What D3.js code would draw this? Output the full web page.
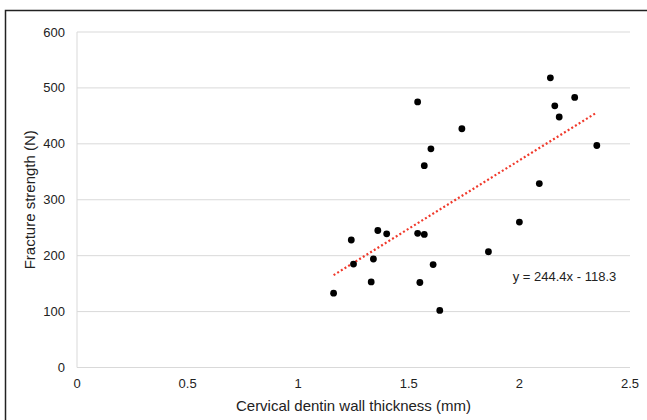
<!DOCTYPE html>
<html>
<head>
<meta charset="utf-8">
<script src="https://cdn.jsdelivr.net/npm/d3@7"></script>
<style>
  body { margin: 0; background: #ffffff; }
  svg { display: block; font-family: "Liberation Sans", Arial, sans-serif; }
</style>
</head>
<body>
<svg id="chart" width="647" height="420"></svg>
<script>
// Data
const thickness = [1.16, 1.24, 1.25, 1.33, 1.34, 1.36, 1.40, 1.54, 1.54, 1.55, 1.57, 1.57,
                   1.60, 1.61, 1.64, 1.74, 1.86, 2.00, 2.09, 2.14, 2.16, 2.18, 2.25, 2.35];
const strength = [133, 228, 185, 153, 194, 245, 239, 475, 240, 152, 361, 238,
                  391, 184, 102, 427, 207, 260, 329, 518, 468, 448, 483, 397];
const xTicks = [0, 0.5, 1, 1.5, 2, 2.5];
const yTicks = [0, 100, 200, 300, 400, 500, 600];
const slope = 244.4;
const intercept = -118.3;
const equationLabel = "y = 244.4x - 118.3";

const points = thickness.map((t, i) => ({ x: t, y: strength[i] }));

// Plot area
const margin = { top: 32, right: 17, bottom: 52.5, left: 77 };
const width = 647 - margin.left - margin.right;
const height = 420 - margin.top - margin.bottom;

const svg = d3.select("#chart");

// outer frame
svg.append("rect")
    .attr("x", 5.5)
    .attr("y", 10.5)
    .attr("width", 700)
    .attr("height", 500)
    .attr("fill", "none")
    .attr("stroke", "#222")
    .attr("stroke-width", 1.5);

const g = svg.append("g")
    .attr("transform", `translate(${margin.left},${margin.top})`);

const x = d3.scaleLinear().domain([0, 2.5]).range([0, width]);
const y = d3.scaleLinear().domain([0, 600]).range([height, 0]);

// horizontal gridlines
g.append("g")
    .selectAll("line")
    .data(yTicks)
    .join("line")
    .attr("x1", 0)
    .attr("x2", width)
    .attr("y1", d => y(d))
    .attr("y2", d => y(d))
    .attr("stroke", "#d9d9d9")
    .attr("stroke-width", 1);

// y axis line
g.append("line")
    .attr("x1", 0).attr("x2", 0)
    .attr("y1", 0).attr("y2", height)
    .attr("stroke", "#d9d9d9")
    .attr("stroke-width", 1);

// tick labels
g.append("g")
    .selectAll("text")
    .data(yTicks)
    .join("text")
    .attr("x", -12)
    .attr("y", d => y(d))
    .attr("dy", "0.35em")
    .attr("text-anchor", "end")
    .style("font-size", "13px")
    .style("fill", "#222")
    .text(d => d);

g.append("g")
    .selectAll("text")
    .data(xTicks)
    .join("text")
    .attr("x", d => x(d))
    .attr("y", height + 20)
    .attr("text-anchor", "middle")
    .style("font-size", "13px")
    .style("fill", "#222")
    .text(d => d);

// axis titles
g.append("text")
    .attr("x", width / 2)
    .attr("y", height + 43)
    .attr("text-anchor", "middle")
    .style("font-size", "15px")
    .style("fill", "#222")
    .text("Cervical dentin wall thickness (mm)");

g.append("text")
    .attr("transform", "rotate(-90)")
    .attr("x", -height / 2)
    .attr("y", -42)
    .attr("text-anchor", "middle")
    .style("font-size", "15px")
    .style("fill", "#222")
    .text("Fracture strength (N)");

// trendline over the data range
const xMin = d3.min(thickness);
const xMax = d3.max(thickness);
const trend = [xMin, xMax].map(t => ({ x: t, y: slope * t + intercept }));

g.append("path")
    .datum(trend)
    .attr("fill", "none")
    .attr("stroke", "#f0392b")
    .attr("stroke-width", 2.2)
    .attr("stroke-dasharray", "2 2.3")
    .attr("d", d3.line().x(d => x(d.x)).y(d => y(d.y)));

// points
g.append("g")
    .selectAll("circle")
    .data(points)
    .join("circle")
    .attr("cx", d => x(d.x))
    .attr("cy", d => y(d.y))
    .attr("r", 3.4)
    .attr("fill", "#000");

// equation label
g.append("text")
    .attr("x", x(1.97))
    .attr("y", y(154))
    .style("font-size", "13px")
    .style("fill", "#222")
    .text(equationLabel);
</script>
</body>
</html>
